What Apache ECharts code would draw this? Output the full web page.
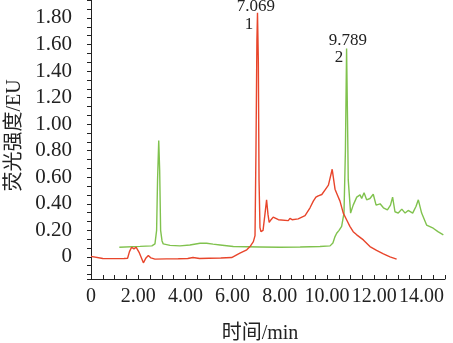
<!DOCTYPE html>
<html><head><meta charset="utf-8">
<script src="https://cdn.jsdelivr.net/npm/echarts@6/dist/echarts.min.js"></script>
<style>html,body{margin:0;padding:0;background:#fff}#c{width:453px;height:343px}</style>
</head><body><div id="c"></div>
<script>
// Series 1 (red) retention time (min) and fluorescence (EU)
const redTime = [0, 0.08, 0.5, 1.0, 1.4, 1.55, 1.63, 1.72, 1.82, 1.91, 2.05, 2.22, 2.33, 2.43, 2.54, 2.71, 3.2, 3.7, 4.1, 4.32, 4.6, 5.0, 5.5, 5.96, 6.31, 6.6, 6.74, 6.88, 6.95, 6.99, 7.03, 7.055, 7.09, 7.12, 7.16, 7.2, 7.29, 7.37, 7.44, 7.5, 7.55, 7.63, 7.72, 7.94, 8.36, 8.43, 8.52, 8.78, 9.07, 9.28, 9.42, 9.53, 9.63, 9.78, 9.92, 10.06, 10.13, 10.22, 10.34, 10.44, 10.55, 10.69, 10.83, 10.97, 11.11, 11.26, 11.54, 11.82, 12.1, 12.39, 12.67, 12.95];
const redSignal = [0.004, -0.011, -0.012, -0.013, -0.012, -0.01, 0.04, 0.073, 0.06, 0.073, 0.03, -0.045, -0.008, 0.011, -0.008, -0.017, -0.015, -0.014, -0.012, -0.005, -0.012, -0.01, -0.008, -0.005, 0.028, 0.053, 0.078, 0.115, 0.16, 0.8, 1.63, 1.84, 1.48, 0.58, 0.22, 0.19, 0.2, 0.32, 0.43, 0.32, 0.26, 0.28, 0.3, 0.28, 0.273, 0.29, 0.28, 0.286, 0.31, 0.37, 0.42, 0.45, 0.46, 0.47, 0.505, 0.54, 0.555, 0.66, 0.51, 0.467, 0.42, 0.33, 0.28, 0.23, 0.19, 0.166, 0.128, 0.078, 0.049, 0.023, 0, -0.017];
// Series 2 (green)
const greenTime = [1.2, 2.08, 2.58, 2.71, 2.78, 2.82, 2.87, 2.91, 2.95, 3.01, 3.06, 3.35, 3.77, 4.19, 4.62, 4.9, 5.17, 5.47, 6.03, 7.16, 8.0, 8.86, 9.7, 10.13, 10.25, 10.34, 10.41, 10.51, 10.62, 10.72, 10.78, 10.83, 10.87, 10.9, 11.0, 11.11, 11.26, 11.4, 11.47, 11.57, 11.68, 11.82, 11.96, 12.08, 12.25, 12.39, 12.56, 12.69, 12.78, 12.88, 13.02, 13.17, 13.31, 13.44, 13.63, 13.77, 13.87, 14.01, 14.22, 14.5, 14.7, 14.93];
const greenSignal = [0.073, 0.079, 0.083, 0.098, 0.2, 0.58, 0.876, 0.65, 0.2, 0.12, 0.098, 0.087, 0.083, 0.09, 0.103, 0.103, 0.096, 0.09, 0.078, 0.075, 0.073, 0.075, 0.078, 0.083, 0.105, 0.153, 0.178, 0.2, 0.23, 0.33, 0.8, 1.57, 1.03, 0.58, 0.33, 0.39, 0.45, 0.467, 0.44, 0.484, 0.43, 0.44, 0.472, 0.39, 0.4, 0.37, 0.354, 0.39, 0.45, 0.34, 0.33, 0.36, 0.33, 0.35, 0.33, 0.38, 0.43, 0.33, 0.24, 0.216, 0.19, 0.166];
// Peak annotations
const peakTimes = ['7.069', '9.789'];
const peakNumbers = ['1', '2'];

const RED = '#e8452b', GREEN = '#80c24e', INK = '#222';
const FONT = '"Liberation Serif", "Noto Sans CJK SC", serif';

function pairs(xs, ys) { return xs.map((x, i) => [x, ys[i]]); }
function peakCoord(xs, ys) {
  let k = 0; ys.forEach((v, i) => { if (v > ys[k]) k = i; });
  return [xs[k], ys[k]];
}
function markLabels(coord, timeText, numText, tOff, nOff) {
  const base = { coord: coord, symbol: 'circle', symbolSize: 1, itemStyle: { color: 'rgba(0,0,0,0)' } };
  return [
    Object.assign({}, base, { label: { show: true, position: 'inside', formatter: timeText, offset: tOff, color: INK, fontSize: 17, fontFamily: FONT } }),
    Object.assign({}, base, { label: { show: true, position: 'inside', formatter: numText, offset: nOff, color: INK, fontSize: 17, fontFamily: FONT } })
  ];
}

const chart = echarts.init(document.getElementById('c'), null, { renderer: 'canvas' });
chart.setOption({
  animation: false,
  backgroundColor: '#fff',
  grid: { left: 91, right: 8, top: 0, bottom: 64, containLabel: false, outerBoundsMode: 'none' },
  xAxis: {
    type: 'value', min: 0, max: 15, interval: 0.5,
    name: '时间/min', nameLocation: 'middle', nameGap: 45,
    nameTextStyle: { fontFamily: FONT, fontSize: 20, color: INK, padding: [0, 16, 0, 0] },
    axisLine: { show: true, onZero: false, lineStyle: { color: INK, width: 1 } },
    axisTick: { show: true, inside: true, length: 4, lineStyle: { color: INK } },
    axisLabel: {
      margin: 8, fontFamily: FONT, fontSize: 20, color: INK,
      formatter: v => { const r = Math.round(v); if (Math.abs(v - r) > 1e-6 || r % 2 !== 0 || r > 14) return ''; return r === 0 ? '0' : r.toFixed(2); }
    },
    splitLine: { show: false }
  },
  yAxis: {
    type: 'value', min: -1 / 6, max: 1.9355, splitNumber: 10, minInterval: 0.2, maxInterval: 0.2,
    name: '荧光强度/EU', nameLocation: 'middle', nameGap: 65, nameRotate: 90,
    nameTextStyle: { fontFamily: FONT, fontSize: 20, color: INK, padding: [0, 0, 0, 8] },
    axisLine: { show: true, lineStyle: { color: INK, width: 1 } },
    axisTick: { show: true, inside: false, length: 4, lineStyle: { color: INK } },
    minorTick: { show: true, splitNumber: 3, length: 4, lineStyle: { color: INK } },
    axisLabel: {
      margin: 19, fontFamily: FONT, fontSize: 21, color: INK,
      formatter: v => { const k = Math.round(v / 0.2); if (Math.abs(v - k * 0.2) > 1e-6 || k < 0 || k > 9) return ''; return k === 0 ? '0' : (k * 0.2).toFixed(2); }
    },
    splitLine: { show: false }
  },
  series: [
    {
      type: 'line', data: pairs(redTime, redSignal), showSymbol: false, symbol: 'none',
      lineStyle: { color: RED, width: 1.4 }, itemStyle: { color: RED }, z: 3,
      markPoint: { silent: true, data: markLabels(peakCoord(redTime, redSignal), peakTimes[0], peakNumbers[0], [-1.5, -6], [-8.5, 12]) }
    },
    {
      type: 'line', data: pairs(greenTime, greenSignal), showSymbol: false, symbol: 'none',
      lineStyle: { color: GREEN, width: 1.4 }, itemStyle: { color: GREEN }, z: 2,
      markPoint: { silent: true, data: markLabels(peakCoord(greenTime, greenSignal), peakTimes[1], peakNumbers[1], [1.3, -8], [-7.7, 9]) }
    }
  ]
});
</script>
</body></html>
